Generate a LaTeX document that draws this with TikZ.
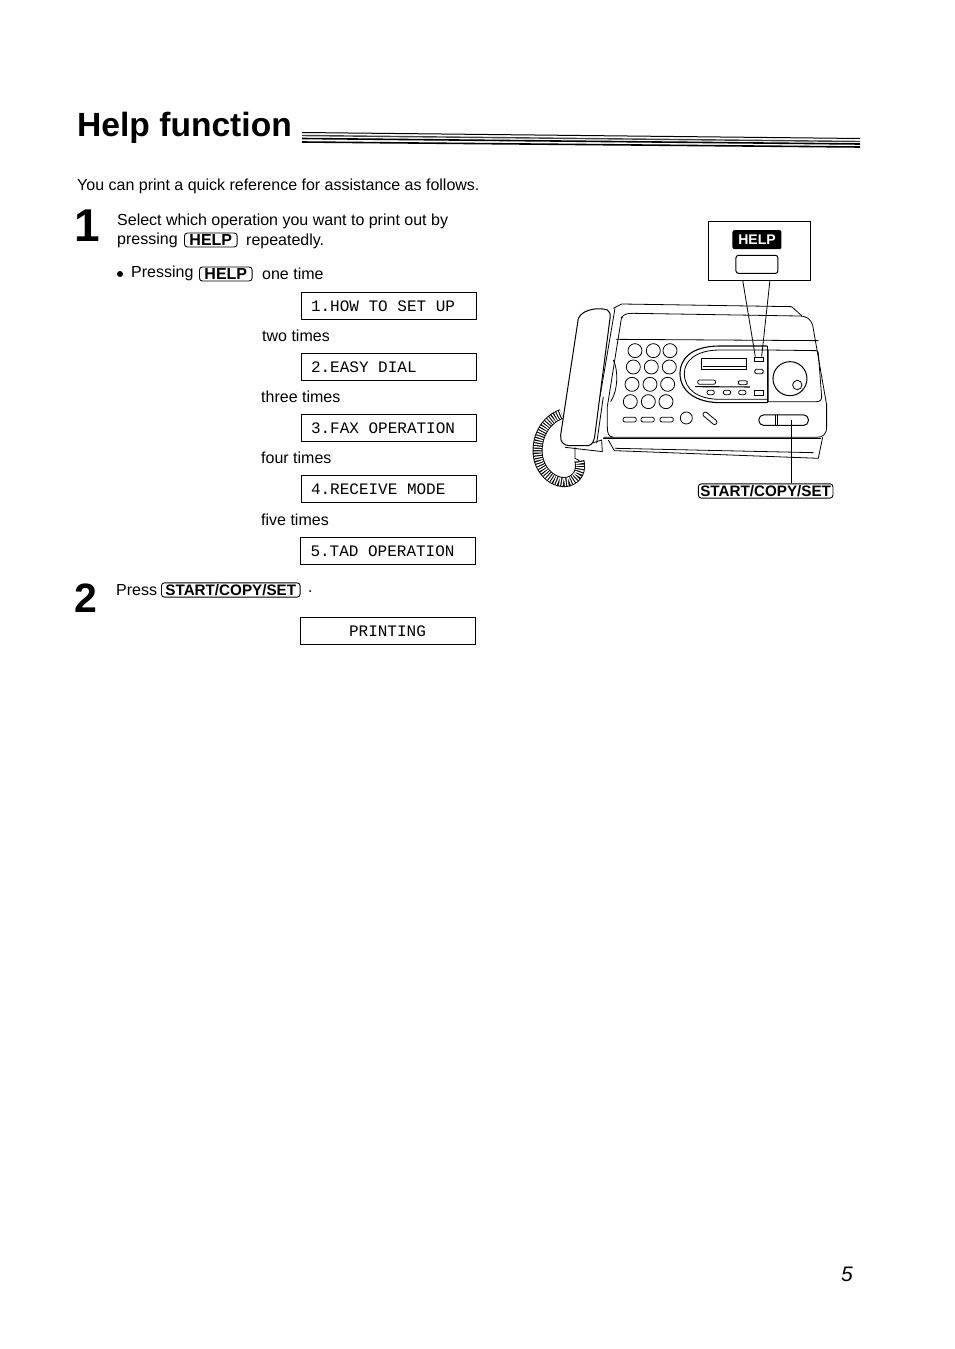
\documentclass[tikz,border=0pt]{standalone}
\usepackage{fontspec}
\usepackage{tikz}
\setmainfont{Liberation Sans}
\setmonofont{Liberation Mono}
\tikzset{
  bodytext/.style={anchor=west,inner sep=0pt,font=\fontsize{16}{18}\selectfont},
  keycap/.style={draw,rounded corners=3pt,line width=0.9pt,inner xsep=5pt,inner ysep=1.5pt,font=\fontsize{16}{16}\selectfont\bfseries},
  startcap/.style={keycap,inner xsep=4pt,font=\fontsize{15.2}{15.2}\selectfont\bfseries},
  screenbox/.style={draw,line width=0.7pt,text width=155pt,inner xsep=10pt,inner ysep=0pt,minimum height=27pt,align=flush left,font=\fontsize{16}{16}\ttfamily},
  bignum/.style={anchor=center,inner sep=0pt,font=\fontsize{46}{46}\selectfont\bfseries},
  keyhole/.style={draw,line width=0.8pt},
}
\begin{document}
\begin{tikzpicture}[x=1pt,y=-1pt]
\useasboundingbox (0,0) rectangle (954,1349);
% heading
\node[anchor=west,inner sep=0pt,font=\fontsize{33.6}{36}\selectfont\bfseries] (title) at (77,128) {Help function};
\draw[line width=1pt] (302,132.5) -- (860,138.5);
\draw[line width=1.4pt,darkgray] (302,135.5) -- (860,141.5);
\draw[line width=1.6pt] (302,138.5) -- (860,144);
\draw[line width=1.6pt] (302,142) -- (860,147);
\node[bodytext] (intro) at (77,186) {You can print a quick reference for assistance as follows.};
% step 1
\node[bignum] (one) at (87,226) {1};
\node[bodytext] (sel) at (117,221) {Select which operation you want to print out by};
\node[bodytext] (prs) at (117,240) {pressing};
\node[keycap,anchor=west] (helpa) at (184,240) {HELP};
\node[bodytext] (rep) at (246,241) {repeatedly.};
\node[fill=black,circle,inner sep=0pt,minimum size=6pt] (dotb) at (120,274) {};
\node[bodytext] (pr) at (131,273) {Pressing};
\node[keycap,anchor=west] (helpb) at (199,274) {HELP};
\node[bodytext] (once) at (262,274) {one time};
% screens
\node[screenbox] (scra) at (388.5,306) {1.HOW TO SET UP};
\node[bodytext] (two) at (262,336) {two times};
\node[screenbox] (scrb) at (388.5,367) {2.EASY DIAL};
\node[bodytext] (three) at (261,397) {three times};
\node[screenbox] (scrc) at (388.5,428) {3.FAX OPERATION};
\node[bodytext] (four) at (261,458) {four times};
\node[screenbox] (scrd) at (388.5,489) {4.RECEIVE MODE};
\node[bodytext] (five) at (261,520) {five times};
\node[screenbox] (scre) at (388,551) {5.TAD OPERATION};
% step 2
\node[bignum,font=\fontsize{41}{41}\selectfont\bfseries] (twob) at (86,598) {2};
\node[bodytext] (press) at (116,590) {Press};
\node[startcap,anchor=west] (startb) at (161,590) {START/COPY/SET};
\node[bodytext] (dot) at (308,592) {.};
\node[screenbox,align=flush center] (scrf) at (387.5,631) {PRINTING};
% page number
\node[inner sep=0pt,font=\fontsize{21}{21}\selectfont\itshape] (page) at (847,1274) {5};
% fax machine, numbers read off the 3x crop
\begin{scope}[xshift=520pt,yshift=-210pt,x=0.3333pt,y=-0.3333pt,line width=0.8pt]
\draw (280,295) -- (305,282) -- (815,290) -- (845,317);
\draw (305,325) .. controls (310,312) and (320,310) .. (340,310) -- (835,318) .. controls (860,318) and (870,325) .. (878,345) -- (920,585) -- (920,650) .. controls (920,672) and (910,682) .. (890,682) -- (250,682);
\draw (285,295) -- (240,560);
\draw (305,320) -- (262,590);
\draw (288,388) -- (896,392);
\draw[line width=1.3pt] (250,685) -- (903,685);
\draw (265,690) -- (283,722) -- (895,745) -- (908,682);
\draw (285,715) -- (880,728);
\draw (262,590) -- (262,650) .. controls (262,670) and (265,680) .. (280,682);
\draw (280,450) .. controls (295,480) and (295,540) .. (272,575);
% keypad
\foreach \x/\y in {345/422,400/422,450/422,340/471,394/471,448/471,336/523,390/523,443/523,331/575,385/575,438/575}
  \draw[keyhole] (\x,\y) circle (21);
\foreach \x in {329,383,440}
  \draw[keyhole,rounded corners=2pt] (\x-20,622) rectangle (\x+20,636);
\draw[keyhole] (499,624) circle (18);
\draw[keyhole,rotate around={-40:(570,625)},rounded corners=2pt] (545,618) rectangle (595,632);
% display panel
\draw[line width=1.1pt] (742,408) -- (600,408) .. controls (510,408) and (480,450) .. (480,490) .. controls (480,545) and (530,578) .. (600,578) -- (742,578);
\draw (742,420) -- (600,420) .. controls (525,420) and (493,455) .. (493,490) .. controls (493,540) and (535,568) .. (600,568) -- (742,568);
\draw (742,408) -- (742,578);
\draw[line width=1.2pt] (545,445) rectangle (680,478);
\draw[line width=1.2pt] (548,470) -- (680,470);
\draw[keyhole,rounded corners=2pt] (533,510) rectangle (587,523);
\draw[keyhole,rounded corners=2pt] (655,512) rectangle (682,524);
\draw[line width=1.1pt] (525,530) -- (690,531);
\foreach \x in {572,621,667}
  \draw[keyhole,rounded corners=2pt] (\x-11,541) rectangle (\x+11,554);
\draw[keyhole] (704,541) rectangle (730,557);
\draw[keyhole] (704,442) rectangle (730,455);
\draw[keyhole,rounded corners=1.5pt] (704,478) rectangle (730,491);
% speaker panel
\draw (745,420) -- (888,422) .. controls (893,423) and (894,425) .. (895,430) -- (905,560) .. controls (905,570) and (900,575) .. (890,575) -- (745,575) -- cycle;
\draw[line width=1pt] (810,506) circle (51);
\draw (832,525) circle (14);
% start key
\draw[line width=1pt,rounded corners=4.5pt] (717,615) rectangle (865,646);
\draw (766,615) -- (766,645);
\draw[line width=1.2pt] (772,615) -- (772,645);
% cord
\draw[line width=10pt] (125,612) .. controls (75,630) and (50,680) .. (53,730) .. controls (57,790) and (110,825) .. (145,815) .. controls (175,805) and (185,780) .. (178,752);
\draw[line width=8.2pt,white,dash pattern=on 1.3pt off 1.2pt] (125,612) .. controls (75,630) and (50,680) .. (53,730) .. controls (57,790) and (110,825) .. (145,815) .. controls (175,805) and (185,780) .. (178,752);
\draw (165,712) -- (165,745) -- (178,752);
% handset
\draw[fill=white,line width=1pt] (262,300) .. controls (240,292) and (190,295) .. (175,325) -- (122,675) .. controls (120,695) and (130,705) .. (145,707) -- (205,707) .. controls (218,705) and (222,690) .. (224,680) -- (270,325) .. controls (272,312) and (270,305) .. (262,300);
\draw (215,700) -- (245,690) -- (247,725) -- (135,712);
\draw (250,560) -- (230,700);
\end{scope}
% help callout
\begin{scope}[xshift=520pt,yshift=-210pt,x=0.3333pt,y=-0.3333pt,line width=0.8pt]
\node[fill=black,text=white,rounded corners=2pt,inner sep=0pt,minimum width=49pt,minimum height=19pt,font=\fontsize{14}{14}\selectfont\bfseries] (helplbl) at (711,89) {HELP};
\node[draw,line width=1pt,rounded corners=2.5pt,minimum width=42pt,minimum height=18pt,inner sep=0pt] (helpkey) at (711,163) {};
\coordinate (calla) at (566,33);
\coordinate (callb) at (870,33);
\coordinate (callc) at (870,210);
\coordinate (calld) at (566,210);
\coordinate (tipa) at (668,210);
\coordinate (tipb) at (750,210);
\coordinate (heada) at (706,440);
\coordinate (headb) at (725,440);
\draw (calla) -- (callb) -- (callc) -- (calld) -- cycle;
\draw (tipa) -- (heada);
\draw (tipb) -- (headb);
\coordinate (startkey) at (815,630);
\node[startcap,inner xsep=2pt] (startc) at (737,843) {START/COPY/SET};
\draw (startkey) -- (startkey |- startc.north);
\end{scope}
\end{tikzpicture}
\end{document}
